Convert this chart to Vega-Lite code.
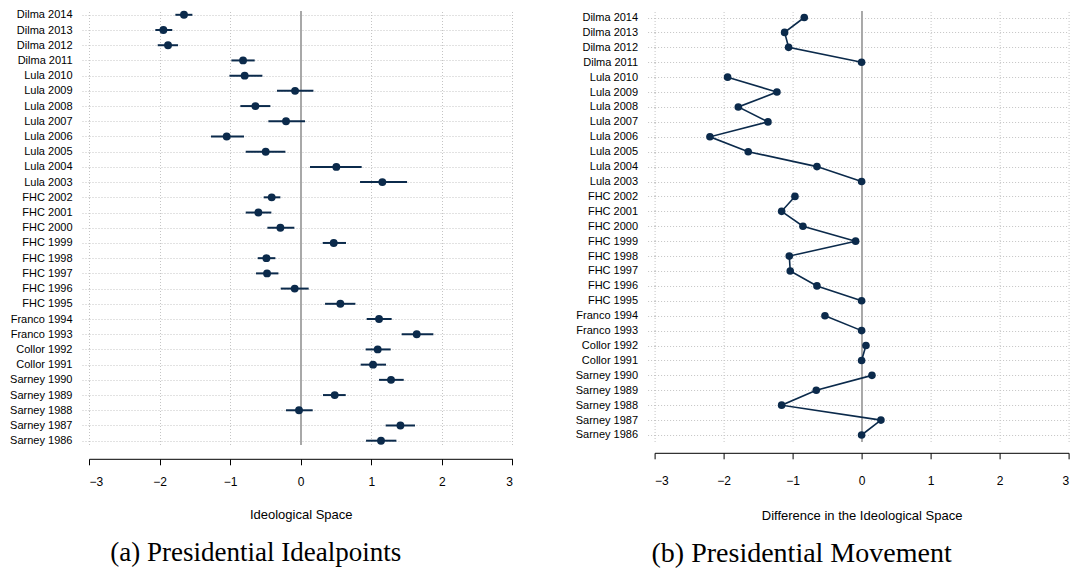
{
  "$schema": "https://vega.github.io/schema/vega-lite/v6.json",
  "background": "white",
  "padding": {"left": 9, "top": 8, "right": 4, "bottom": 4},
  "datasets": {
    "pres": [
      {"label": "Dilma 2014", "president": "Dilma", "year": 2014, "est": -1.654, "lo": -1.776, "hi": -1.535, "diff": -0.831},
      {"label": "Dilma 2013", "president": "Dilma", "year": 2013, "est": -1.946, "lo": -2.06, "hi": -1.82, "diff": -1.116},
      {"label": "Dilma 2012", "president": "Dilma", "year": 2012, "est": -1.88, "lo": -2.026, "hi": -1.738, "diff": -1.058},
      {"label": "Dilma 2011", "president": "Dilma", "year": 2011, "est": -0.817, "lo": -0.982, "hi": -0.652, "diff": 0},
      {"label": "Lula 2010", "president": "Lula", "year": 2010, "est": -0.794, "lo": -1.01, "hi": -0.543, "diff": -1.942},
      {"label": "Lula 2009", "president": "Lula", "year": 2009, "est": -0.08, "lo": -0.336, "hi": 0.18, "diff": -1.227},
      {"label": "Lula 2008", "president": "Lula", "year": 2008, "est": -0.642, "lo": -0.855, "hi": -0.43, "diff": -1.787},
      {"label": "Lula 2007", "president": "Lula", "year": 2007, "est": -0.208, "lo": -0.458, "hi": 0.061, "diff": -1.357},
      {"label": "Lula 2006", "president": "Lula", "year": 2006, "est": -1.049, "lo": -1.271, "hi": -0.803, "diff": -2.198},
      {"label": "Lula 2005", "president": "Lula", "year": 2005, "est": -0.496, "lo": -0.779, "hi": -0.217, "diff": -1.643},
      {"label": "Lula 2004", "president": "Lula", "year": 2004, "est": 0.505, "lo": 0.132, "hi": 0.864, "diff": -0.647},
      {"label": "Lula 2003", "president": "Lula", "year": 2003, "est": 1.157, "lo": 0.841, "hi": 1.507, "diff": 0},
      {"label": "FHC 2002", "president": "FHC", "year": 2002, "est": -0.411, "lo": -0.524, "hi": -0.288, "diff": -0.966},
      {"label": "FHC 2001", "president": "FHC", "year": 2001, "est": -0.6, "lo": -0.779, "hi": -0.416, "diff": -1.159},
      {"label": "FHC 2000", "president": "FHC", "year": 2000, "est": -0.288, "lo": -0.472, "hi": -0.09, "diff": -0.85},
      {"label": "FHC 1999", "president": "FHC", "year": 1999, "est": 0.468, "lo": 0.312, "hi": 0.642, "diff": -0.087},
      {"label": "FHC 1998", "president": "FHC", "year": 1998, "est": -0.486, "lo": -0.609, "hi": -0.359, "diff": -1.048},
      {"label": "FHC 1997", "president": "FHC", "year": 1997, "est": -0.477, "lo": -0.633, "hi": -0.316, "diff": -1.034},
      {"label": "FHC 1996", "president": "FHC", "year": 1996, "est": -0.085, "lo": -0.283, "hi": 0.113, "diff": -0.647},
      {"label": "FHC 1995", "president": "FHC", "year": 1995, "est": 0.562, "lo": 0.345, "hi": 0.775, "diff": 0},
      {"label": "Franco 1994", "president": "Franco", "year": 1994, "est": 1.11, "lo": 0.935, "hi": 1.289, "diff": -0.531},
      {"label": "Franco 1993", "president": "Franco", "year": 1993, "est": 1.644, "lo": 1.431, "hi": 1.88, "diff": 0},
      {"label": "Collor 1992", "president": "Collor", "year": 1992, "est": 1.091, "lo": 0.921, "hi": 1.275, "diff": 0.063},
      {"label": "Collor 1991", "president": "Collor", "year": 1991, "est": 1.025, "lo": 0.85, "hi": 1.209, "diff": 0},
      {"label": "Sarney 1990", "president": "Sarney", "year": 1990, "est": 1.28, "lo": 1.11, "hi": 1.46, "diff": 0.15},
      {"label": "Sarney 1989", "president": "Sarney", "year": 1989, "est": 0.482, "lo": 0.316, "hi": 0.638, "diff": -0.657},
      {"label": "Sarney 1988", "president": "Sarney", "year": 1988, "est": -0.024, "lo": -0.208, "hi": 0.17, "diff": -1.159},
      {"label": "Sarney 1987", "president": "Sarney", "year": 1987, "est": 1.413, "lo": 1.204, "hi": 1.62, "diff": 0.28},
      {"label": "Sarney 1986", "president": "Sarney", "year": 1986, "est": 1.138, "lo": 0.926, "hi": 1.356, "diff": 0}
    ]
  },
  "bounds": "flush",
  "spacing": 141.6,
  "config": {
    "view": {"stroke": null},
    "font": "Liberation Sans",
    "axis": {
      "labelFont": "Liberation Sans",
      "titleFont": "Liberation Sans",
      "labelColor": "black",
      "titleColor": "black",
      "titleFontWeight": "normal",
      "gridColor": "#c4c4c4",
      "gridDash": [1, 2],
      "gridWidth": 1
    },
    "title": {"font": "Liberation Serif", "fontSize": 27, "fontWeight": "normal", "color": "black"}
  },
  "hconcat": [
    {
      "width": 423.4,
      "height": 433.5,
      "data": {"name": "pres"},
      "title": {"text": "(a) Presidential Idealpoints", "orient": "bottom", "anchor": "middle", "offset": 18, "dx": -45},
      "encoding": {
        "y": {
          "field": "label", "type": "nominal",
          "sort": {"field": "year", "op": "max", "order": "descending"},
          "scale": {"type": "point", "padding": 0.25},
          "axis": {"title": null, "domain": false, "ticks": true, "tickSize": 7, "tickDash": [1, 2], "tickColor": "#c4c4c4", "labelPadding": 10, "labelFontSize": 11, "grid": true}
        }
      },
      "layer": [
        {
          "mark": {"type": "rule", "color": "#a8a8a8", "strokeWidth": 1.2},
          "encoding": {"x": {"datum": 0, "type": "quantitative"}, "y": null}
        },
        {
          "mark": {"type": "rule", "color": "#0b2a4b", "strokeWidth": 2},
          "encoding": {
            "x": {
              "field": "lo", "type": "quantitative",
              "scale": {"domain": [-3, 3], "nice": false, "zero": false},
              "axis": {"values": [-3, -2, -1, 0, 1, 2, 3], "format": "~g", "title": "Ideological Space", "titleFontSize": 13, "titlePadding": 21, "labelFontSize": 12, "labelPadding": 12, "offset": 14.3, "domainColor": "black", "domainWidth": 1, "tickColor": "black", "tickSize": 6, "grid": true}
            },
            "x2": {"field": "hi"}
          }
        },
        {
          "mark": {"type": "circle", "color": "#0b2a4b", "opacity": 1, "size": 62},
          "encoding": {"x": {"field": "est", "type": "quantitative"}}
        }
      ]
    },
    {
      "width": 414,
      "height": 430.5,
      "data": {"name": "pres"},
      "title": {"text": "(b) Presidential Movement", "orient": "bottom", "anchor": "middle", "offset": 17, "dx": -60, "fontSize": 28},
      "encoding": {
        "y": {
          "field": "label", "type": "nominal",
          "sort": {"field": "year", "op": "max", "order": "descending"},
          "scale": {"type": "point", "padding": 0.436},
          "axis": {"title": null, "domain": false, "ticks": true, "tickSize": 7, "tickDash": [1, 2], "tickColor": "#c4c4c4", "labelPadding": 10, "labelFontSize": 11, "grid": true}
        }
      },
      "layer": [
        {
          "mark": {"type": "rule", "color": "#a8a8a8", "strokeWidth": 1.2},
          "encoding": {"x": {"datum": 0, "type": "quantitative"}, "y": null}
        },
        {
          "mark": {"type": "line", "color": "#0b2a4b", "strokeWidth": 1.6},
          "encoding": {
            "x": {
              "field": "diff", "type": "quantitative",
              "scale": {"domain": [-3, 3], "nice": false, "zero": false},
              "axis": {"values": [-3, -2, -1, 0, 1, 2, 3], "format": "~g", "title": "Difference in the Ideological Space", "titleFontSize": 13, "titlePadding": 23, "labelFontSize": 12, "labelPadding": 17, "offset": 11.3, "domainColor": "black", "domainWidth": 1, "tickColor": "black", "tickSize": 6, "grid": true}
            },
            "detail": {"field": "president"},
            "order": {"field": "year"}
          }
        },
        {
          "mark": {"type": "circle", "color": "#0b2a4b", "opacity": 1, "size": 58},
          "encoding": {"x": {"field": "diff", "type": "quantitative"}}
        }
      ]
    }
  ]
}
